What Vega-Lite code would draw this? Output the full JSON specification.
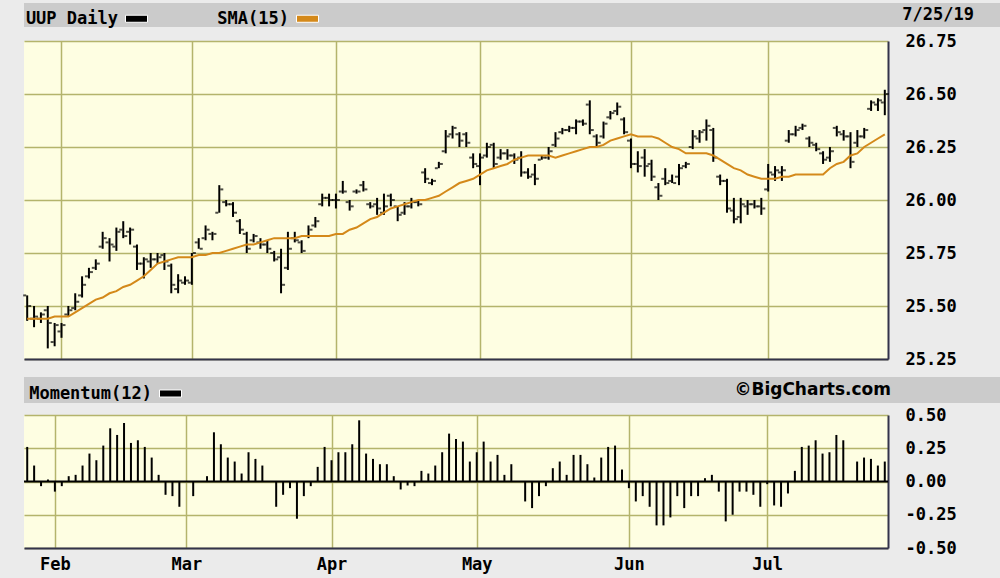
{
"$schema": "https://vega.github.io/schema/vega-lite/v6.json",
"background": "#ebebeb",
"padding": {"left": 3, "top": 3, "right": 3, "bottom": 8},
"config": {"view": {"stroke": null}, "font": "DejaVu Sans Mono"},
"datasets": {"p": [
{"d":"2019-01-25","o":25.55,"h":25.55,"l":25.43,"c":25.50,"s":25.44},
{"d":"2019-01-28","o":25.44,"h":25.50,"l":25.40,"c":25.45,"s":25.44,"m":0.26},
{"d":"2019-01-29","o":25.44,"h":25.47,"l":25.42,"c":25.46,"s":25.44,"m":0.12},
{"d":"2019-01-30","o":25.48,"h":25.50,"l":25.30,"c":25.42,"s":25.44,"m":-0.035},
{"d":"2019-01-31","o":25.33,"h":25.42,"l":25.31,"c":25.41,"s":25.45,"m":0.015},
{"d":"2019-02-01","o":25.38,"h":25.42,"l":25.35,"c":25.41,"s":25.45,"m":-0.076},
{"d":"2019-02-04","o":25.46,"h":25.50,"l":25.45,"c":25.48,"s":25.45,"m":-0.035},
{"d":"2019-02-05","o":25.49,"h":25.56,"l":25.48,"c":25.52,"s":25.47,"m":0.04},
{"d":"2019-02-06","o":25.55,"h":25.64,"l":25.54,"c":25.60,"s":25.49,"m":0.05},
{"d":"2019-02-07","o":25.64,"h":25.68,"l":25.63,"c":25.66,"s":25.51,"m":0.12},
{"d":"2019-02-08","o":25.68,"h":25.72,"l":25.67,"c":25.70,"s":25.53,"m":0.21},
{"d":"2019-02-11","o":25.78,"h":25.85,"l":25.77,"c":25.82,"s":25.54,"m":0.16},
{"d":"2019-02-12","o":25.80,"h":25.82,"l":25.71,"c":25.79,"s":25.56,"m":0.27},
{"d":"2019-02-13","o":25.78,"h":25.87,"l":25.76,"c":25.85,"s":25.57,"m":0.40},
{"d":"2019-02-14","o":25.86,"h":25.90,"l":25.82,"c":25.83,"s":25.59,"m":0.35},
{"d":"2019-02-15","o":25.85,"h":25.87,"l":25.79,"c":25.86,"s":25.60,"m":0.44},
{"d":"2019-02-19","o":25.78,"h":25.79,"l":25.67,"c":25.70,"s":25.62,"m":0.29},
{"d":"2019-02-20","o":25.70,"h":25.73,"l":25.63,"c":25.72,"s":25.64,"m":0.31},
{"d":"2019-02-21","o":25.71,"h":25.75,"l":25.68,"c":25.72,"s":25.67,"m":0.26},
{"d":"2019-02-22","o":25.72,"h":25.75,"l":25.70,"c":25.73,"s":25.70,"m":0.18},
{"d":"2019-02-25","o":25.74,"h":25.75,"l":25.67,"c":25.71,"s":25.71,"m":0.05},
{"d":"2019-02-26","o":25.69,"h":25.70,"l":25.56,"c":25.60,"s":25.72,"m":-0.10},
{"d":"2019-02-27","o":25.58,"h":25.65,"l":25.56,"c":25.62,"s":25.73,"m":-0.11},
{"d":"2019-02-28","o":25.61,"h":25.64,"l":25.60,"c":25.62,"s":25.73,"m":-0.19},
{"d":"2019-03-01","o":25.61,"h":25.75,"l":25.60,"c":25.75,"s":25.73,"m":0.0},
{"d":"2019-03-04","o":25.80,"h":25.82,"l":25.77,"c":25.77,"s":25.74,"m":-0.11},
{"d":"2019-03-05","o":25.82,"h":25.88,"l":25.81,"c":25.86,"s":25.74,"m":0.0},
{"d":"2019-03-06","o":25.84,"h":25.85,"l":25.81,"c":25.84,"s":25.75,"m":0.04},
{"d":"2019-03-07","o":25.94,"h":26.07,"l":25.94,"c":26.05,"s":25.75,"m":0.37},
{"d":"2019-03-08","o":25.99,"h":26.00,"l":25.97,"c":25.98,"s":25.76,"m":0.28},
{"d":"2019-03-11","o":25.98,"h":25.99,"l":25.92,"c":25.94,"s":25.77,"m":0.18},
{"d":"2019-03-12","o":25.90,"h":25.91,"l":25.84,"c":25.86,"s":25.78,"m":0.15},
{"d":"2019-03-13","o":25.84,"h":25.85,"l":25.75,"c":25.77,"s":25.79,"m":0.06},
{"d":"2019-03-14","o":25.81,"h":25.84,"l":25.80,"c":25.83,"s":25.79,"m":0.22},
{"d":"2019-03-15","o":25.80,"h":25.82,"l":25.77,"c":25.79,"s":25.80,"m":0.17},
{"d":"2019-03-18","o":25.79,"h":25.81,"l":25.75,"c":25.77,"s":25.81,"m":0.12},
{"d":"2019-03-19","o":25.75,"h":25.76,"l":25.71,"c":25.72,"s":25.82,"m":0.0},
{"d":"2019-03-20","o":25.73,"h":25.77,"l":25.56,"c":25.60,"s":25.82,"m":-0.19},
{"d":"2019-03-21","o":25.68,"h":25.85,"l":25.67,"c":25.77,"s":25.82,"m":-0.10},
{"d":"2019-03-22","o":25.82,"h":25.85,"l":25.80,"c":25.81,"s":25.82,"m":-0.05},
{"d":"2019-03-25","o":25.80,"h":25.81,"l":25.75,"c":25.76,"s":25.83,"m":-0.28},
{"d":"2019-03-26","o":25.83,"h":25.88,"l":25.82,"c":25.86,"s":25.83,"m":-0.11},
{"d":"2019-03-27","o":25.88,"h":25.92,"l":25.87,"c":25.90,"s":25.83,"m":-0.035},
{"d":"2019-03-28","o":25.98,"h":26.03,"l":25.97,"c":26.01,"s":25.83,"m":0.11},
{"d":"2019-03-29","o":26.01,"h":26.03,"l":25.97,"c":26.00,"s":25.83,"m":0.26},
{"d":"2019-04-01","o":26.00,"h":26.03,"l":25.96,"c":26.00,"s":25.84,"m":0.16},
{"d":"2019-04-02","o":26.04,"h":26.09,"l":26.03,"c":26.04,"s":25.84,"m":0.22},
{"d":"2019-04-03","o":25.99,"h":26.00,"l":25.95,"c":25.97,"s":25.86,"m":0.22},
{"d":"2019-04-04","o":26.04,"h":26.05,"l":26.03,"c":26.04,"s":25.87,"m":0.28},
{"d":"2019-04-05","o":26.07,"h":26.09,"l":26.04,"c":26.05,"s":25.89,"m":0.46},
{"d":"2019-04-08","o":25.98,"h":25.99,"l":25.96,"c":25.97,"s":25.91,"m":0.21},
{"d":"2019-04-09","o":25.98,"h":26.01,"l":25.93,"c":25.96,"s":25.92,"m":0.17},
{"d":"2019-04-10","o":25.94,"h":26.03,"l":25.93,"c":25.97,"s":25.94,"m":0.13},
{"d":"2019-04-11","o":26.02,"h":26.03,"l":25.97,"c":26.00,"s":25.96,"m":0.13},
{"d":"2019-04-12","o":25.97,"h":25.97,"l":25.90,"c":25.93,"s":25.97,"m":0.04},
{"d":"2019-04-15","o":25.94,"h":25.99,"l":25.93,"c":25.97,"s":25.98,"m":-0.06},
{"d":"2019-04-16","o":25.97,"h":26.01,"l":25.96,"c":25.99,"s":25.99,"m":-0.03},
{"d":"2019-04-17","o":25.99,"h":26.00,"l":25.97,"c":25.98,"s":26.00,"m":-0.035},
{"d":"2019-04-18","o":26.13,"h":26.15,"l":26.08,"c":26.10,"s":26.00,"m":0.08},
{"d":"2019-04-22","o":26.08,"h":26.10,"l":26.07,"c":26.09,"s":26.01,"m":0.06},
{"d":"2019-04-23","o":26.15,"h":26.18,"l":26.15,"c":26.17,"s":26.02,"m":0.12},
{"d":"2019-04-24","o":26.23,"h":26.33,"l":26.22,"c":26.30,"s":26.04,"m":0.22},
{"d":"2019-04-25","o":26.31,"h":26.35,"l":26.29,"c":26.34,"s":26.06,"m":0.36},
{"d":"2019-04-26","o":26.31,"h":26.32,"l":26.25,"c":26.28,"s":26.08,"m":0.32},
{"d":"2019-04-29","o":26.31,"h":26.32,"l":26.25,"c":26.27,"s":26.09,"m":0.30},
{"d":"2019-04-30","o":26.20,"h":26.22,"l":26.15,"c":26.17,"s":26.10,"m":0.15},
{"d":"2019-05-01","o":26.16,"h":26.22,"l":26.07,"c":26.20,"s":26.12,"m":0.22},
{"d":"2019-05-02","o":26.21,"h":26.27,"l":26.20,"c":26.25,"s":26.14,"m":0.30},
{"d":"2019-05-03","o":26.26,"h":26.27,"l":26.15,"c":26.17,"s":26.15,"m":0.15},
{"d":"2019-05-06","o":26.20,"h":26.24,"l":26.19,"c":26.22,"s":26.16,"m":0.20},
{"d":"2019-05-07","o":26.22,"h":26.24,"l":26.19,"c":26.21,"s":26.17,"m":0.05},
{"d":"2019-05-08","o":26.21,"h":26.22,"l":26.17,"c":26.19,"s":26.19,"m":0.13},
{"d":"2019-05-09","o":26.20,"h":26.23,"l":26.11,"c":26.13,"s":26.20,"m":0.0},
{"d":"2019-05-10","o":26.13,"h":26.15,"l":26.10,"c":26.11,"s":26.21,"m":-0.15},
{"d":"2019-05-13","o":26.12,"h":26.17,"l":26.07,"c":26.10,"s":26.21,"m":-0.20},
{"d":"2019-05-14","o":26.19,"h":26.21,"l":26.19,"c":26.20,"s":26.21,"m":-0.11},
{"d":"2019-05-15","o":26.20,"h":26.25,"l":26.19,"c":26.23,"s":26.21,"m":-0.035},
{"d":"2019-05-16","o":26.26,"h":26.32,"l":26.25,"c":26.29,"s":26.20,"m":0.10},
{"d":"2019-05-17","o":26.32,"h":26.34,"l":26.31,"c":26.33,"s":26.21,"m":0.15},
{"d":"2019-05-20","o":26.33,"h":26.35,"l":26.32,"c":26.34,"s":26.22,"m":0.05},
{"d":"2019-05-21","o":26.34,"h":26.38,"l":26.31,"c":26.37,"s":26.23,"m":0.20},
{"d":"2019-05-22","o":26.37,"h":26.38,"l":26.35,"c":26.36,"s":26.24,"m":0.20},
{"d":"2019-05-23","o":26.45,"h":26.47,"l":26.31,"c":26.33,"s":26.25,"m":0.13},
{"d":"2019-05-24","o":26.30,"h":26.31,"l":26.25,"c":26.27,"s":26.25,"m":0.03},
{"d":"2019-05-28","o":26.30,"h":26.37,"l":26.29,"c":26.36,"s":26.26,"m":0.18},
{"d":"2019-05-29","o":26.39,"h":26.42,"l":26.38,"c":26.41,"s":26.28,"m":0.26},
{"d":"2019-05-30","o":26.42,"h":26.46,"l":26.40,"c":26.44,"s":26.29,"m":0.27},
{"d":"2019-05-31","o":26.38,"h":26.39,"l":26.31,"c":26.32,"s":26.30,"m":0.09},
{"d":"2019-06-03","o":26.28,"h":26.29,"l":26.15,"c":26.17,"s":26.31,"m":-0.05},
{"d":"2019-06-04","o":26.17,"h":26.23,"l":26.13,"c":26.16,"s":26.30,"m":-0.15},
{"d":"2019-06-05","o":26.20,"h":26.24,"l":26.11,"c":26.16,"s":26.30,"m":-0.11},
{"d":"2019-06-06","o":26.17,"h":26.19,"l":26.09,"c":26.11,"s":26.30,"m":-0.19},
{"d":"2019-06-07","o":26.06,"h":26.08,"l":26.00,"c":26.02,"s":26.29,"m":-0.33},
{"d":"2019-06-10","o":26.10,"h":26.15,"l":26.07,"c":26.08,"s":26.27,"m":-0.33},
{"d":"2019-06-11","o":26.09,"h":26.12,"l":26.08,"c":26.08,"s":26.25,"m":-0.27},
{"d":"2019-06-12","o":26.11,"h":26.17,"l":26.07,"c":26.15,"s":26.24,"m":-0.11},
{"d":"2019-06-13","o":26.16,"h":26.18,"l":26.15,"c":26.17,"s":26.22,"m":-0.20},
{"d":"2019-06-14","o":26.25,"h":26.33,"l":26.24,"c":26.30,"s":26.22,"m":-0.11},
{"d":"2019-06-17","o":26.29,"h":26.33,"l":26.27,"c":26.32,"s":26.22,"m":-0.11},
{"d":"2019-06-18","o":26.33,"h":26.38,"l":26.28,"c":26.35,"s":26.22,"m":0.025},
{"d":"2019-06-19","o":26.33,"h":26.34,"l":26.18,"c":26.20,"s":26.21,"m":0.05},
{"d":"2019-06-20","o":26.11,"h":26.12,"l":26.07,"c":26.09,"s":26.19,"m":-0.076},
{"d":"2019-06-21","o":26.09,"h":26.10,"l":25.94,"c":25.96,"s":26.17,"m":-0.30},
{"d":"2019-06-24","o":25.95,"h":26.01,"l":25.89,"c":25.91,"s":26.15,"m":-0.25},
{"d":"2019-06-25","o":25.92,"h":26.01,"l":25.89,"c":25.98,"s":26.14,"m":-0.076},
{"d":"2019-06-26","o":25.97,"h":26.00,"l":25.93,"c":25.98,"s":26.12,"m":-0.076},
{"d":"2019-06-27","o":25.98,"h":26.00,"l":25.96,"c":25.97,"s":26.11,"m":-0.10},
{"d":"2019-06-28","o":25.97,"h":26.01,"l":25.93,"c":25.96,"s":26.10,"m":-0.19},
{"d":"2019-07-01","o":26.05,"h":26.17,"l":26.04,"c":26.13,"s":26.10,"m":-0.02},
{"d":"2019-07-02","o":26.12,"h":26.16,"l":26.09,"c":26.14,"s":26.10,"m":-0.18},
{"d":"2019-07-03","o":26.13,"h":26.16,"l":26.09,"c":26.14,"s":26.11,"m":-0.19},
{"d":"2019-07-05","o":26.28,"h":26.33,"l":26.27,"c":26.31,"s":26.11,"m":-0.09},
{"d":"2019-07-08","o":26.31,"h":26.35,"l":26.30,"c":26.33,"s":26.12,"m":0.08},
{"d":"2019-07-09","o":26.34,"h":26.36,"l":26.33,"c":26.35,"s":26.12,"m":0.26},
{"d":"2019-07-10","o":26.29,"h":26.30,"l":26.25,"c":26.27,"s":26.12,"m":0.27},
{"d":"2019-07-11","o":26.26,"h":26.27,"l":26.23,"c":26.24,"s":26.12,"m":0.31},
{"d":"2019-07-12","o":26.22,"h":26.23,"l":26.17,"c":26.19,"s":26.12,"m":0.21},
{"d":"2019-07-15","o":26.20,"h":26.25,"l":26.18,"c":26.23,"s":26.15,"m":0.22},
{"d":"2019-07-16","o":26.34,"h":26.35,"l":26.30,"c":26.32,"s":26.17,"m":0.35},
{"d":"2019-07-17","o":26.31,"h":26.33,"l":26.28,"c":26.30,"s":26.18,"m":0.31},
{"d":"2019-07-18","o":26.30,"h":26.32,"l":26.15,"c":26.18,"s":26.21,"m":0.0},
{"d":"2019-07-19","o":26.27,"h":26.33,"l":26.25,"c":26.30,"s":26.22,"m":0.15},
{"d":"2019-07-22","o":26.30,"h":26.34,"l":26.29,"c":26.33,"s":26.25,"m":0.18},
{"d":"2019-07-23","o":26.43,"h":26.47,"l":26.42,"c":26.46,"s":26.27,"m":0.17},
{"d":"2019-07-24","o":26.45,"h":26.48,"l":26.42,"c":26.47,"s":26.29,"m":0.12},
{"d":"2019-07-25","o":26.46,"h":26.52,"l":26.40,"c":26.50,"s":26.31,"m":0.15}
]},
"resolve": {"scale": {"color": "independent"}, "legend": {"color": "independent"}},
"spacing": 10,
"vconcat": [
{
"spacing": 5,
"resolve": {"scale": {"color": "independent"}, "legend": {"color": "independent"}},
"vconcat": [
{
"width": 994, "height": 24,
"view": {"fill": "#cbcbcb", "stroke": null},
"data": {"values": []},
"title": {"text": "7/25/19", "anchor": "end", "orient": "top", "offset": -21, "dx": -44, "font": "DejaVu Sans Mono", "fontSize": 17, "fontWeight": "bold", "color": "#000000"},
"layer": [
{"mark": {"type": "square", "filled": true, "opacity": 1},
 "encoding": {"color": {"datum": "UUP Daily", "type": "nominal",
   "scale": {"domain": ["UUP Daily", "SMA(15)"], "range": ["#000000", "#d4891a"]},
   "legend": {"orient": "none", "legendX": 101, "legendY": 4, "direction": "horizontal", "title": null, "padding": 0,
     "symbolType": "M-1,-0.32H1V0.32H-1Z", "symbolSize": 484, "symbolStrokeColor": "#ffffff", "symbolStrokeWidth": 1, "symbolOpacity": 1,
     "labelFont": "DejaVu Sans Mono", "labelFontSize": 17, "labelFontWeight": "bold", "labelColor": "#000000",
     "labelAlign": "right", "labelOffset": -30, "columnPadding": 67}}}},
{"mark": {"type": "square", "filled": true, "opacity": 1},
 "encoding": {"color": {"datum": "SMA(15)", "type": "nominal"}}}
]
},
{
"width": 864, "height": 318,
"view": {"fill": "#fefee2", "stroke": null},
"data": {"name": "p"},
"encoding": {"x": {"field": "d", "type": "ordinal", "scale": {"type": "point", "padding": 0.465},
  "axis": {"orient": "bottom", "values": ["2019-02-01","2019-03-01","2019-04-01","2019-05-01","2019-06-03","2019-07-01"],
    "grid": true, "gridColor": "#b4b46c", "gridWidth": 1.5, "labels": false, "ticks": false,
    "domain": true, "domainColor": "#33334a", "domainWidth": 2, "title": null}}},
"layer": [
{"mark": {"type": "rule", "color": "#000000", "strokeWidth": 2},
 "encoding": {"y": {"field": "l", "type": "quantitative", "scale": {"domain": [25.25, 26.75], "nice": false, "zero": false},
   "axis": {"orient": "right", "values": [25.25, 25.5, 25.75, 26, 26.25, 26.5, 26.75], "format": ".2f",
     "grid": true, "gridColor": "#b4b46c", "gridWidth": 1.5, "ticks": false, "labelPadding": 17,
     "labelFont": "DejaVu Sans Mono", "labelFontSize": 17, "labelFontWeight": "bold", "labelColor": "#000000",
     "domain": true, "domainColor": "#33334a", "domainWidth": 2, "title": null}},
  "y2": {"field": "h"}}},
{"mark": {"type": "tick", "orient": "horizontal", "color": "#000000", "size": 3, "thickness": 2, "xOffset": -2.5},
 "encoding": {"y": {"field": "o", "type": "quantitative", "axis": null}}},
{"mark": {"type": "tick", "orient": "horizontal", "color": "#000000", "size": 3, "thickness": 2, "xOffset": 2.5},
 "encoding": {"y": {"field": "c", "type": "quantitative", "axis": null}}},
{"mark": {"type": "line", "color": "#d4891a", "strokeWidth": 2},
 "encoding": {"y": {"field": "s", "type": "quantitative",
   "axis": {"orient": "left", "labels": false, "ticks": false, "domain": false, "grid": false, "minExtent": 21, "maxExtent": 21, "title": null}}}}
],
"resolve": {"axis": {"y": "independent"}}
}
]
},
{
"spacing": 3,
"resolve": {"scale": {"color": "independent"}, "legend": {"color": "independent"}},
"vconcat": [
{
"width": 994, "height": 26,
"view": {"fill": "#cbcbcb", "stroke": null},
"data": {"values": []},
"title": {"text": "©BigCharts.com", "anchor": "end", "orient": "top", "offset": -22, "dx": -127, "font": "DejaVu Sans", "fontSize": 17, "fontWeight": "bold", "color": "#000000"},
"layer": [
{"mark": {"type": "square", "filled": true, "opacity": 1},
 "encoding": {"color": {"datum": "Momentum(12)", "type": "nominal",
   "scale": {"domain": ["Momentum(12)"], "range": ["#000000"]},
   "legend": {"orient": "none", "legendX": 135, "legendY": 5, "direction": "horizontal", "title": null, "padding": 0,
     "symbolType": "M-1,-0.32H1V0.32H-1Z", "symbolSize": 484, "symbolStrokeColor": "#ffffff", "symbolStrokeWidth": 1, "symbolOpacity": 1,
     "labelFont": "DejaVu Sans Mono", "labelFontSize": 17, "labelFontWeight": "bold", "labelColor": "#000000",
     "labelAlign": "right", "labelOffset": -30}}}}
]
},
{
"width": 864, "height": 133,
"view": {"fill": "#fefee2", "stroke": null},
"layer": [
{"data": {"name": "p"},
 "mark": {"type": "rule", "color": "#000000", "strokeWidth": 2},
 "encoding": {
  "x": {"field": "d", "type": "ordinal", "scale": {"type": "point", "padding": 0.465},
   "axis": {"orient": "bottom", "values": ["2019-02-01","2019-03-01","2019-04-01","2019-05-01","2019-06-03","2019-07-01"],
    "labelExpr": "utcFormat(toDate(datum.value), '%b')", "labelAngle": 0,
    "grid": true, "gridColor": "#b4b46c", "gridWidth": 1.5, "ticks": false, "labelPadding": 8,
    "labelFont": "DejaVu Sans Mono", "labelFontSize": 17, "labelFontWeight": "bold", "labelColor": "#000000",
    "domain": true, "domainColor": "#33334a", "domainWidth": 2, "title": null}},
  "y": {"field": "m", "type": "quantitative", "scale": {"domain": [-0.5, 0.5], "nice": false},
   "axis": {"orient": "right", "values": [-0.5, -0.25, 0, 0.25, 0.5],
     "labelExpr": "replace(format(datum.value, '.2f'), '\u2212', '-')",
     "grid": true, "gridColor": "#b4b46c", "gridWidth": 1.5, "ticks": false, "labelPadding": 17,
     "labelFont": "DejaVu Sans Mono", "labelFontSize": 17, "labelFontWeight": "bold", "labelColor": "#000000",
     "domain": true, "domainColor": "#33334a", "domainWidth": 2, "title": null}},
  "y2": {"datum": 0}}},
{"data": {"values": [{}]},
 "mark": {"type": "rule", "color": "#000000", "strokeWidth": 2},
 "encoding": {"y": {"datum": 0, "type": "quantitative",
   "axis": {"orient": "left", "labels": false, "ticks": false, "domain": false, "grid": false, "minExtent": 21, "maxExtent": 21, "title": null}}}}
],
"resolve": {"axis": {"y": "independent"}}
}
]
}
]
}
